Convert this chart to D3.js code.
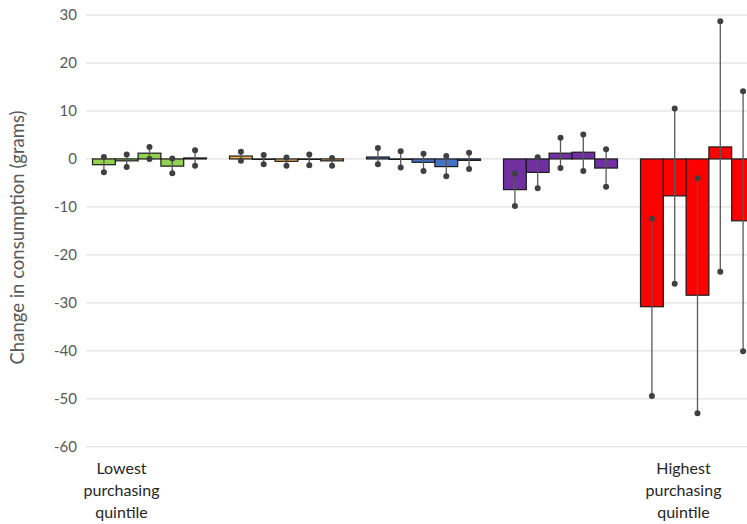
<!DOCTYPE html>
<html>
<head>
<meta charset="utf-8">
<script src="https://cdn.jsdelivr.net/npm/d3@7"></script>
<style>
  html, body { margin: 0; padding: 0; background: #fff; overflow: hidden; }
  svg { display: block; }
</style>
</head>
<body>
<svg id="chart" width="747" height="524"></svg>
<script>
// ---- data ----
const quintiles = ["Q1", "Q2", "Q3", "Q4", "Q5"];
const seriesNames = ["S1", "S2", "S3", "S4", "S5"];
const groupColors = ["#92D050", "#F2B45A", "#4472C4", "#7030A0", "#FF0000"];
const means = [
  [-1.2, -0.4, 1.2, -1.5, 0.2],
  [0.6, -0.1, -0.5, -0.1, -0.4],
  [0.4, -0.1, -0.7, -1.6, -0.3],
  [-6.4, -2.8, 1.2, 1.4, -1.9],
  [-30.8, -7.7, -28.4, 2.5, -12.9]
];
const lowers = [
  [-2.8, -1.7, 0.0, -3.0, -1.4],
  [-0.4, -1.1, -1.4, -1.3, -1.4],
  [-1.1, -1.8, -2.5, -3.6, -2.1],
  [-9.8, -6.1, -1.9, -2.5, -5.8],
  [-49.4, -26.0, -53.0, -23.5, -40.1]
];
const uppers = [
  [0.4, 0.9, 2.5, 0.1, 1.8],
  [1.5, 0.8, 0.3, 0.9, 0.2],
  [2.3, 1.6, 1.1, 0.6, 1.3],
  [-3.1, 0.35, 4.4, 5.1, 2.0],
  [-12.4, 10.5, -4.05, 28.7, 14.1]
];
const yTicks = [30, 20, 10, 0, -10, -20, -30, -40, -50, -60];
const yTitle = "Change in consumption (grams)";
const lowLabel = ["Lowest", "purchasing", "quintile"];
const highLabel = ["Highest", "purchasing", "quintile"];

// ---- layout ----
const svg = d3.select("#chart");
const font = "Lato, 'Open Sans', sans-serif";
const gridLeft = 86, gridRight = 747;

const x = d3.scaleBand().domain(quintiles).range([81, 766])
  .paddingInner(0.168).paddingOuter(0.084);
const xs = d3.scaleBand().domain(seriesNames).range([0, x.bandwidth()]).padding(0);
const y = d3.scaleLinear().domain([-60, 30]).range([446.8, 15]);

// gridlines
svg.append("g").selectAll("line").data(yTicks).join("line")
  .attr("x1", gridLeft).attr("x2", gridRight)
  .attr("y1", d => y(d)).attr("y2", d => y(d))
  .attr("stroke", "#D9D9D9").attr("stroke-width", 1);

// y tick labels
svg.append("g").selectAll("text").data(yTicks).join("text")
  .attr("x", 77).attr("y", d => y(d)).attr("dy", "0.35em")
  .attr("text-anchor", "end")
  .attr("font-family", font).attr("font-size", 15).attr("fill", "#595959")
  .text(d => String(d));

// axis title
svg.append("text")
  .attr("transform", `translate(24,${237.5}) rotate(-90)`)
  .attr("text-anchor", "middle")
  .attr("font-family", font).attr("font-size", 18.5).attr("fill", "#595959")
  .text(yTitle);

// flatten data
const flat = [];
quintiles.forEach((q, gi) => {
  seriesNames.forEach((s, si) => {
    flat.push({ q, s, gi, v: means[gi][si], lo: lowers[gi][si], hi: uppers[gi][si] });
  });
});

// bars
svg.append("g").selectAll("rect").data(flat).join("rect")
  .attr("x", d => x(d.q) + xs(d.s))
  .attr("width", xs.bandwidth())
  .attr("y", d => y(Math.max(0, d.v)))
  .attr("height", d => Math.abs(y(d.v) - y(0)))
  .attr("fill", d => groupColors[d.gi])
  .attr("stroke", "#1a1a1a").attr("stroke-width", 1.2);

// error bars
const eb = svg.append("g");
eb.selectAll("line").data(flat).join("line")
  .attr("x1", d => x(d.q) + xs(d.s) + xs.bandwidth() / 2)
  .attr("x2", d => x(d.q) + xs(d.s) + xs.bandwidth() / 2)
  .attr("y1", d => y(d.hi)).attr("y2", d => y(d.lo))
  .attr("stroke", "#595959").attr("stroke-width", 1.3);
const ends = [];
flat.forEach(d => { ends.push({ d, v: d.hi }); ends.push({ d, v: d.lo }); });
eb.selectAll("circle").data(ends).join("circle")
  .attr("cx", e => x(e.d.q) + xs(e.d.s) + xs.bandwidth() / 2)
  .attr("cy", e => y(e.v))
  .attr("r", 3).attr("fill", "#404040");

// category labels (first and last quintile only)
function catLabel(lines, q, offset) {
  const t = svg.append("text")
    .attr("text-anchor", "middle")
    .attr("font-family", font).attr("font-size", 16).attr("fill", "#262626");
  lines.forEach((l, i) => {
    t.append("tspan")
      .attr("x", x(q) + x.bandwidth() / 2 + offset)
      .attr("y", 474 + i * 22)
      .text(l);
  });
}
catLabel(lowLabel, quintiles[0], -28);
catLabel(highLabel, quintiles[4], -14);
</script>
</body>
</html>
